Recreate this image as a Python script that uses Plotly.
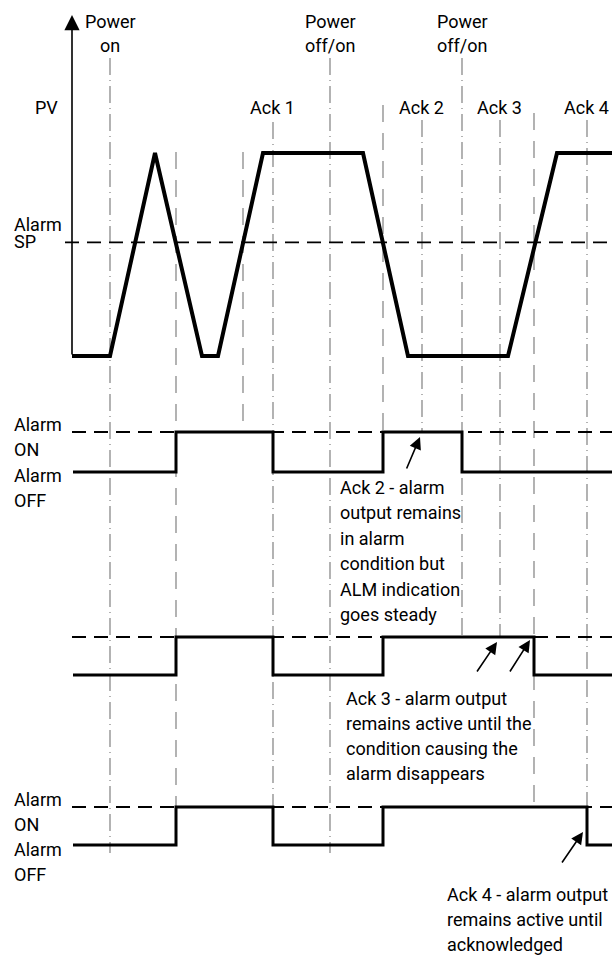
import plotly.graph_objects as go

# ---------------- data ----------------
# time axis is in diagram units (0..612 across the page)
power_t = [110, 330, 462]
power_lines = [["Power", "on"], ["Power", "off/on"], ["Power", "off/on"]]

ack_t = [273, 422, 500, 587]
ack_txt = ["Ack 1", "Ack 2", "Ack 3", "Ack 4"]

# moments where PV crosses the alarm setpoint
sp_cross_t = [176, 243, 383, 534]

# process value (0 = bottom of chart, 100 = plateau)
pv_t = [72, 110, 155, 202, 218, 263, 363, 408, 508, 557, 612]
pv_v = [0, 0, 100, 0, 0, 100, 100, 0, 0, 100, 100]
alarm_sp = 56

# alarm outputs (0 = OFF, 1 = ON), one row per alarm type
out1_t = [73, 176, 273, 383, 462, 612]
out2_t = [73, 176, 273, 383, 534, 612]
out3_t = [73, 176, 273, 383, 587, 612]
out_state = [0, 1, 0, 1, 0, 0]

note_ack2 = ["Ack 2 - alarm", "output remains", "in alarm", "condition but",
             "ALM indication", "goes steady"]
note_ack3 = ["Ack 3 - alarm output", "remains active until the",
             "condition causing the", "alarm disappears"]
note_ack4 = ["Ack 4 - alarm output", "remains active until", "acknowledged"]

# ---------------- layout helpers ----------------
W, H = 612, 955
FONT = "Roboto, DejaVu Sans, sans-serif"
FS = 18
GREY = "#a0a0a0"


def py(px):
    # pixel row on the page -> paper y
    return 1 - px / H


def panel(top, bot, zero, unit):
    # domain in paper + range so that value 0 sits at pixel row "zero"
    return dict(domain=[py(bot), py(top)],
                range=[(zero - bot) / unit, (zero - top) / unit],
                visible=False, fixedrange=True)


fig = go.Figure()

# alarm setpoint line and "ON" reference lines
fig.add_trace(go.Scatter(x=[65, 612], y=[alarm_sp, alarm_sp], mode="lines",
                         line=dict(color="black", width=1.8, dash="14px,8px"),
                         yaxis="y", hoverinfo="skip"))
for ax in ["y2", "y3", "y4"]:
    fig.add_trace(go.Scatter(x=[72, 612], y=[1, 1], mode="lines",
                             line=dict(color="black", width=1.8, dash="14px,8px"),
                             yaxis=ax, hoverinfo="skip"))

# PV trace
fig.add_trace(go.Scatter(x=pv_t, y=pv_v, mode="lines",
                         line=dict(color="black", width=4), yaxis="y",
                         hoverinfo="skip"))

# alarm output traces
for ax, t in zip(["y2", "y3", "y4"], [out1_t, out2_t, out3_t]):
    fig.add_trace(go.Scatter(x=t, y=out_state, mode="lines",
                             line=dict(color="black", width=3, shape="hv"),
                             yaxis=ax, hoverinfo="skip"))

# vertical guide lines (pixel rows for their extents)
dashdot = "17px,5px,1px,5px"
dashed = "17px,11px"
power_top, power_bot = 58, [853, 853, 637]
ack_top, ack_bot = [122, 120, 120, 120], [807, 432, 637, 807]
sp_top, sp_bot = [152, 152, 105, 113], [807, 432, 432, 807]

guides = []
for t, b in zip(power_t, power_bot):
    guides.append((t, power_top, b, dashdot))
for t, a, b in zip(ack_t, ack_top, ack_bot):
    guides.append((t, a, b, dashdot))
for t, a, b in zip(sp_cross_t, sp_top, sp_bot):
    guides.append((t, a, b, dashed))
for t, a, b, d in guides:
    fig.add_shape(type="line", xref="x", yref="paper", x0=t, x1=t,
                  y0=py(a), y1=py(b), layer="below",
                  line=dict(color=GREY, width=1.6, dash=d))

ann = []


def text(x, baseline, s, anchor="left"):
    if anchor == "left":
        x -= 2  # annotation box padding
    ann.append(dict(x=x, y=py(baseline - 6), xref="x", yref="paper", text=s,
                    showarrow=False, xanchor=anchor, yanchor="middle",
                    font=dict(family=FONT, size=FS, color="black")))


# PV axis with arrow
ann.append(dict(x=72, y=py(15), xref="x", yref="paper", ax=0, ay=341,
                showarrow=True, arrowhead=2, arrowsize=1.9, arrowwidth=1.6,
                arrowcolor="black", standoff=0, text=""))

for t, lines in zip(power_t, power_lines):
    text(t, 28, lines[0], "center")
    text(t, 52, lines[1], "center")
for t, s in zip(ack_t, ack_txt):
    text(t - 1, 113, s, "center")

text(35, 113, "PV")
text(14, 230, "Alarm")
text(14, 248, "SP")
for b, s in zip([431, 456, 481, 506], ["Alarm", "ON", "Alarm", "OFF"]):
    text(14, b, s)
for b, s in zip([805, 830, 855, 880], ["Alarm", "ON", "Alarm", "OFF"]):
    text(14, b, s)

for i, s in enumerate(note_ack2):
    text(340, 493 + 25.5 * i, s)
for i, s in enumerate(note_ack3):
    text(346, 704 + 25 * i, s)
for i, s in enumerate(note_ack4):
    text(447, 900 + 25 * i, s)

# pointer arrows (head position, tail offset in px)
for hx, hy, dx, dy in [(420, 437, -14, 33), (497, 642, -21, 31),
                       (530, 640, -21, 33), (583, 832, -22, 32)]:
    ann.append(dict(x=hx, y=py(hy), xref="x", yref="paper", ax=dx, ay=dy,
                    showarrow=True, arrowhead=2, arrowsize=1.5, arrowwidth=1.6,
                    arrowcolor="black", standoff=0, text=""))

fig.update_layout(
    width=W, height=H, margin=dict(l=0, r=0, t=0, b=0),
    paper_bgcolor="white", plot_bgcolor="white", showlegend=False,
    xaxis=dict(range=[0, W], visible=False, fixedrange=True),
    yaxis=panel(15, 370, 356, 2.03),
    yaxis2=dict(panel(410, 494, 472, 40), anchor="x"),
    yaxis3=dict(panel(615, 697, 675, 38), anchor="x"),
    yaxis4=dict(panel(785, 867, 845, 38), anchor="x"),
    annotations=ann,
)

# drop the default page margin so the 612x955 figure fills the window
fig.write_html("out.html", config={"displayModeBar": False},
               post_script="document.body.style.margin='0';"
                           "document.body.style.overflow='hidden';")
